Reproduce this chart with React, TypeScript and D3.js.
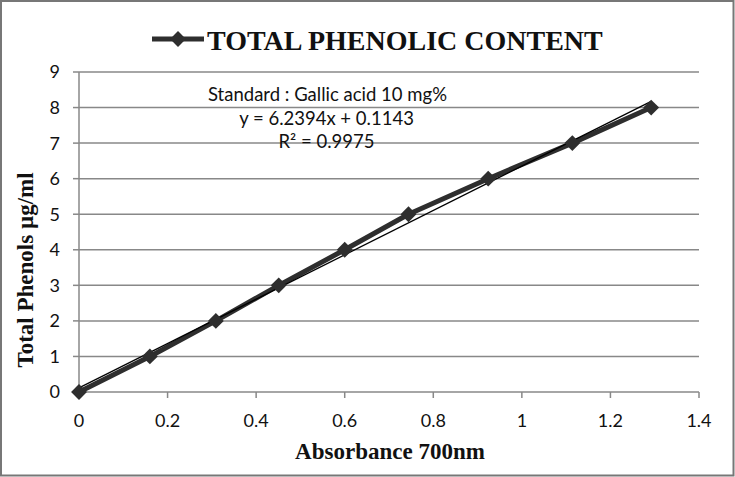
import React from "react";
import * as d3 from "d3";

const absorbance = [0, 0.16, 0.309, 0.451, 0.6, 0.744, 0.924, 1.114, 1.292];
const phenols = [0, 1, 2, 3, 4, 5, 6, 7, 8];
const xTicks = [0, 0.2, 0.4, 0.6, 0.8, 1, 1.2, 1.4];
const yTicks = [0, 1, 2, 3, 4, 5, 6, 7, 8, 9];
const slope = 6.2394;
const intercept = 0.1143;
const titleText = "TOTAL PHENOLIC CONTENT";
const annotation = ["Standard : Gallic acid 10 mg%", "y = 6.2394x + 0.1143", "R² = 0.9975"];

const W = 735, H = 477;
const M = { left: 79, right: 699, top: 72, bottom: 392 };

export default function App() {
  const x = d3.scaleLinear().domain([0, 1.4]).range([M.left, M.right]);
  const y = d3.scaleLinear().domain([0, 9]).range([M.bottom, M.top]);
  const pts: [number, number][] = absorbance.map((a, i) => [a, phenols[i]]);
  const line = d3.line<[number, number]>().x(d => x(d[0])).y(d => y(d[1]));
  const x0 = d3.min(absorbance)!, x1 = d3.max(absorbance)!;
  const trend: [number, number][] = [[x0, slope * x0 + intercept], [x1, slope * x1 + intercept]];
  const diamond = d3.symbol().type(d3.symbolDiamond2).size(160)()!;
  const calibri = "Lato, 'Open Sans', sans-serif";
  const times = "'Liberation Serif', 'Times New Roman', serif";
  const grey = "#888";
  return (
    <svg width={W} height={H} style={{ position: "absolute", left: 0, top: 0, background: "#fff" }}>
      <rect x={1} y={1} width={W - 2.5} height={H - 2.5} fill="#fff" stroke="#777" strokeWidth={2} />
      {yTicks.map(t => (
        <g key={"y" + t}>
          {t > 0 && <line x1={M.left} x2={M.right} y1={y(t)} y2={y(t)} stroke={grey} strokeWidth={1.5} />}
          <line x1={M.left - 6} x2={M.left} y1={y(t)} y2={y(t)} stroke={grey} strokeWidth={1.5} />
          <text x={M.left - 19} y={y(t)} dy="0.36em" textAnchor="end" fontFamily={calibri} fontSize={18} fill="#111">{t}</text>
        </g>
      ))}
      <line x1={M.left} x2={M.left} y1={M.top} y2={M.bottom} stroke={grey} strokeWidth={1.5} />
      <line x1={M.left} x2={M.right} y1={M.bottom} y2={M.bottom} stroke={grey} strokeWidth={1.5} />
      {xTicks.map(t => (
        <g key={"x" + t}>
          <line x1={x(t)} x2={x(t)} y1={M.bottom} y2={M.bottom + 6} stroke={grey} strokeWidth={1.5} />
          <text x={x(t)} y={M.bottom + 35} textAnchor="middle" fontFamily={calibri} fontSize={18} fill="#111">{t}</text>
        </g>
      ))}
      <path d={line(pts)!} fill="none" stroke="#2e2e2e" strokeWidth={5} strokeLinejoin="round" />
      <path d={line(trend)!} fill="none" stroke="#000" strokeWidth={1.3} />
      {pts.map((p, i) => (
        <path key={i} d={diamond} transform={`translate(${x(p[0])},${y(p[1])})`} fill="#2e2e2e" />
      ))}
      {annotation.map((s, i) => (
        <text key={i} x={i === 0 ? 327.5 : 326.5} y={101 + i * 23.5} textAnchor="middle" fontFamily={calibri} fontSize={18.5} fill="#111">{s}</text>
      ))}
      <g>
        <line x1={152} x2={204} y1={39} y2={39} stroke="#2e2e2e" strokeWidth={5} />
        <path d={diamond} transform="translate(178,39)" fill="#2e2e2e" />
        <text x={207} y={50} fontFamily={times} fontWeight="bold" fontSize={28} fill="#111">{titleText}</text>
      </g>
      <text x={390} y={459} textAnchor="middle" fontFamily={times} fontWeight="bold" fontSize={23} fill="#111">Absorbance 700nm</text>
      <text transform={`translate(33,270) rotate(-90)`} textAnchor="middle" fontFamily={times} fontWeight="bold" fontSize={23} fill="#111">Total Phenols µg/ml</text>
    </svg>
  );
}
